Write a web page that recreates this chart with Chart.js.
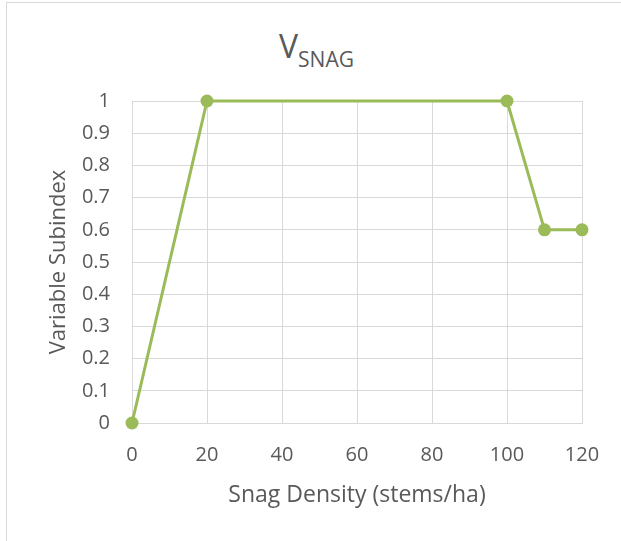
<!DOCTYPE html>
<html>
<head>
<meta charset="utf-8">
<script src="https://cdn.jsdelivr.net/npm/chart.js@4/dist/chart.umd.min.js"></script>
<style>
  html, body { margin: 0; padding: 0; background: #fff; }
  #wrap { position: relative; width: 621px; height: 541px; overflow: hidden; }
  #frame { position: absolute; left: 6px; top: 2px; width: 700px; height: 700px; border: 1px solid #d9d9d9; }
  #title { position: absolute; left: 0; top: 26px; width: 633px; text-align: center;
           font-family: 'Open Sans', sans-serif; font-size: 32px; line-height: 40px; color: #595959; }
  #title sub { font-size: 21px; vertical-align: -9px; line-height: 0; }
  canvas { position: absolute; left: 0; top: 0; }
</style>
</head>
<body>
<div id="wrap">
  <div id="frame"></div>
  <div id="title">V<sub>SNAG</sub></div>
  <canvas id="snagChart" width="621" height="541"></canvas>
</div>
<script>
const snagDensity = [0, 20, 100, 110, 120];
const variableSubindex = [0, 1, 1, 0.6, 0.6];
const xTitle = 'Snag Density (stems/ha)';
const yTitle = 'Variable Subindex';

const textColor = '#595959';
const gridColor = '#d9d9d9';
const green = '#9bbb59';

const ctx = document.getElementById('snagChart').getContext('2d');
const chart = new Chart(ctx, {
  type: 'line',
  data: {
    datasets: [{
      label: 'VSNAG',
      data: snagDensity.map((x, i) => ({ x: x, y: variableSubindex[i] })),
      borderColor: green,
      backgroundColor: green,
      borderWidth: 3,
      pointRadius: 6.5,
      pointHoverRadius: 6.5,
      pointBorderWidth: 0,
      tension: 0,
      clip: false
    }]
  },
  options: {
    responsive: false,
    animation: false,
    layout: { padding: { top: 101, right: 39, left: 0, bottom: 0 } },
    plugins: { legend: { display: false }, tooltip: { enabled: false } },
    scales: {
      x: {
        type: 'linear',
        min: 0,
        max: 120,
        ticks: { stepSize: 20, padding: 20, color: textColor, font: { family: 'Open Sans', size: 20 } },
        grid: { color: gridColor, drawTicks: false },
        border: { color: gridColor },
        title: { display: true, text: xTitle, color: textColor, font: { family: 'Open Sans', size: 23 }, padding: { bottom: 32 } },
        afterFit: s => { s.height = 118; }
      },
      y: {
        min: 0,
        max: 1,
        ticks: {
          stepSize: 0.1, padding: 22, color: textColor, font: { family: 'Open Sans', size: 20 },
          callback: v => String(Math.round(v * 10) / 10)
        },
        grid: { color: gridColor, drawTicks: false },
        border: { color: gridColor },
        title: { display: true, text: yTitle, color: textColor, font: { family: 'Open Sans', size: 22 }, padding: { top: 46 } },
        afterFit: s => { s.width = 132; }
      }
    }
  }
});
</script>
</body>
</html>
